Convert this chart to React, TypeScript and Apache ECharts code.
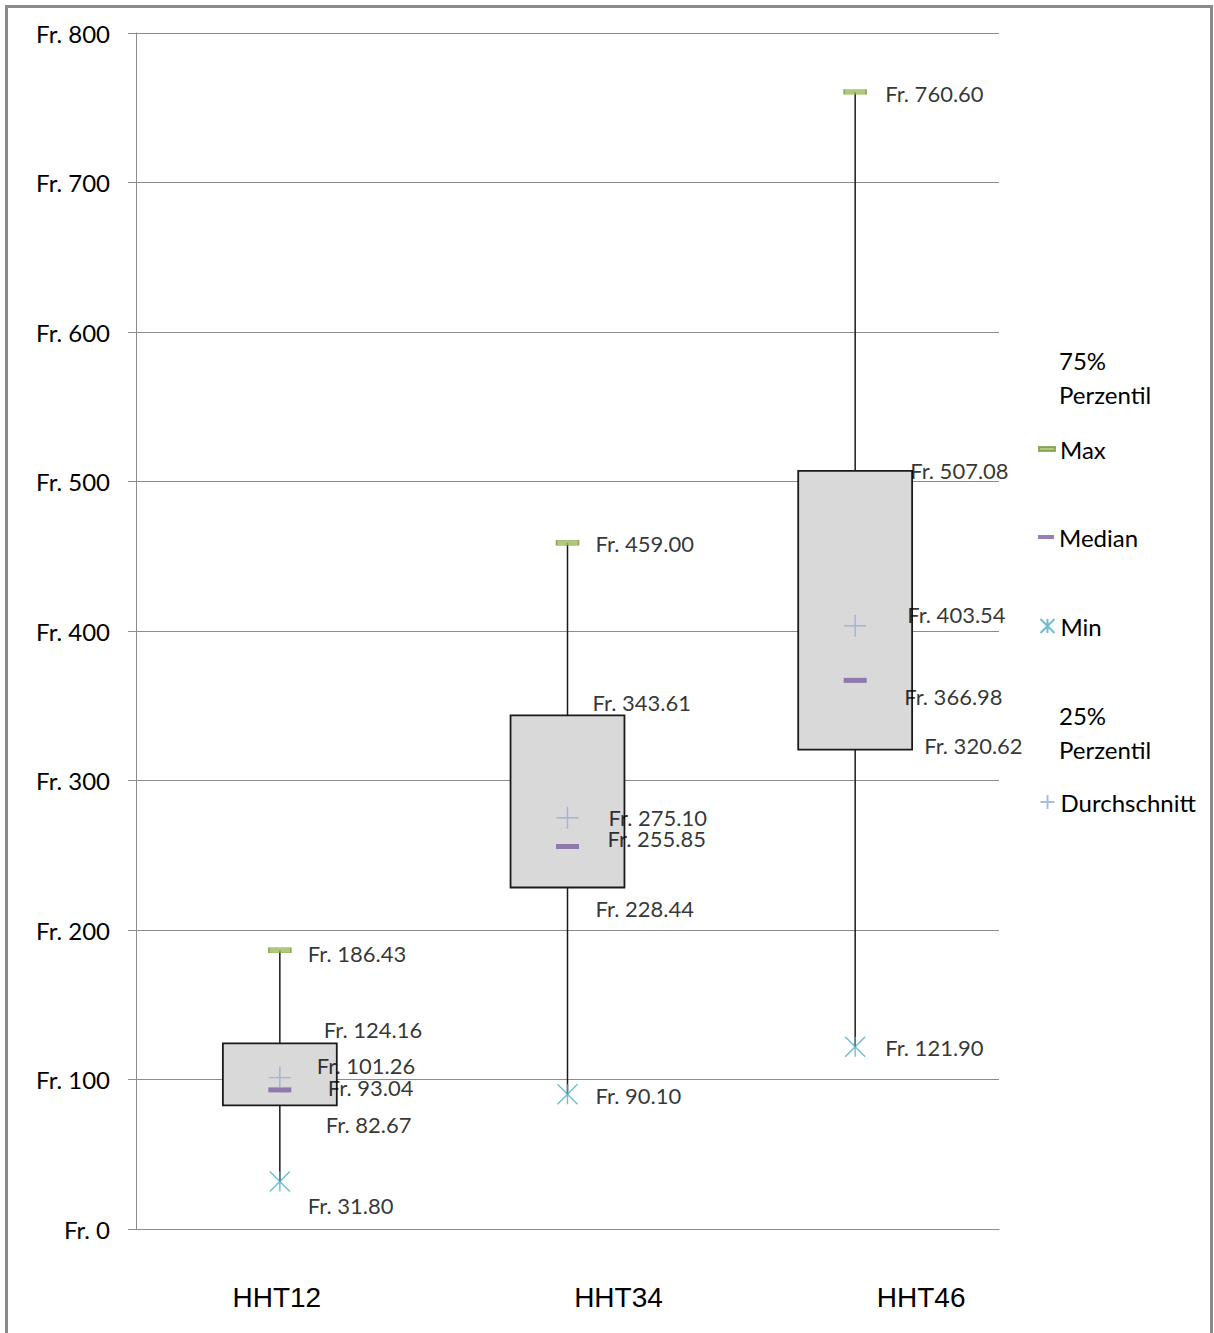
import React, { useEffect, useRef } from "react";
import * as echarts from "echarts";

// Household cost distribution per group (Swiss francs)
const categories = ["HHT12", "HHT34", "HHT46"];
const maxValues = [186.43, 459.0, 760.6];
const q3Values = [124.16, 343.61, 507.08];
const meanValues = [101.26, 275.1, 403.54];
const medianValues = [93.04, 255.85, 366.98];
const q1Values = [82.67, 228.44, 320.62];
const minValues = [31.8, 90.1, 121.9];

// Label placement relative to each point: [dx to text start, dy to text middle]
const maxLabelOffsets = [[28, 3], [28, 1], [30, 2]];
const q3LabelOffsets = [[44, -14], [25, -13], [55, 0]];
const meanLabelOffsets = [[37, -12], [41, 0], [52, -11]];
const medianLabelOffsets = [[48, -2], [40, -8], [49, 16]];
const q1LabelOffsets = [[46, 19], [28, 21], [69, -4]];
const minLabelOffsets = [[28, 24], [28, 1], [30, 1]];

// Horizontal shift of each category caption (rich-text padding left/right)
const captionPadding = [[0, 6, 0, 0], [0, 0, 0, 102], [0, 0, 0, 132]];

const FONT = "Lato, 'Open Sans', sans-serif";
const GRID_GRAY = "#8c8c8c";

const ASTERISK = "path://M0 0L20 20M20 0L0 20M10 0L10 20";
const PLUS = "path://M0 10L20 10M10 0L10 20";

const fmt = (v: number) => "Fr. " + v.toFixed(2);

function pointSeries(
  name: string,
  values: number[],
  offsets: number[][],
  marker: Record<string, unknown>
) {
  return {
    name,
    type: "scatter",
    z: 4,
    silent: true,
    ...marker,
    label: {
      show: true,
      position: "inside",
      align: "left",
      verticalAlign: "middle",
      fontFamily: FONT,
      fontSize: 22,
      color: "#000",
      formatter: (p: any) => fmt(p.value[1]),
    },
    emphasis: { disabled: true },
    data: categories.map((c, i) => ({
      value: [c, values[i]],
      label: { offset: offsets[i] },
    })),
  };
}

function legendAt(name: string, top: number, extra: Record<string, unknown> = {}) {
  return {
    data: [name],
    orient: "vertical",
    left: 1038,
    top,
    padding: 0,
    itemWidth: 16,
    itemHeight: 14,
    selectedMode: false,
    textStyle: { fontFamily: FONT, fontSize: 24, color: "#000", lineHeight: 34 },
    ...extra,
  };
}

// Percentile entries break onto two lines
const wrapName = (n: string) => n.replace(" ", "\n");

export default function App() {
  const ref = useRef<HTMLDivElement>(null);

  useEffect(() => {
    if (!ref.current) return;
    const chart = echarts.init(ref.current, null, { renderer: "svg" });

    const boxData = categories.map((_, i) => [
      i,
      minValues[i],
      q1Values[i],
      q3Values[i],
      maxValues[i],
    ]);

    chart.setOption({
      animation: false,
      backgroundColor: "#fff",
      grid: { left: 136, right: 215, top: 33, bottom: 104 },
      graphic: [
        {
          type: "rect",
          shape: { x: 6.5, y: 6.5, width: 1205, height: 1340 },
          style: { fill: "none", stroke: "#8a8a8a", lineWidth: 3 },
          silent: true,
        },
      ],
      legend: [
        legendAt("75% Perzentil", 343, { itemStyle: { opacity: 0 }, formatter: wrapName }),
        legendAt("Max", 432, { itemHeight: 4 }),
        legendAt("Median", 520, { itemHeight: 4 }),
        legendAt("Min", 609),
        legendAt("25% Perzentil", 698, { itemStyle: { opacity: 0 }, formatter: wrapName }),
        legendAt("Durchschnitt", 785),
      ],
      xAxis: {
        type: "category",
        data: categories,
        boundaryGap: true,
        axisLine: { show: true, lineStyle: { color: GRID_GRAY, width: 1 } },
        axisTick: { show: false },
        splitLine: { show: false },
        axisLabel: {
          margin: 54,
          formatter: (v: string, idx: number) => `{c${idx}|${v}}`,
          rich: {
            c0: { fontFamily: "'Liberation Sans', Arial, sans-serif", fontSize: 28, color: "#000", padding: captionPadding[0] },
            c1: { fontFamily: "'Liberation Sans', Arial, sans-serif", fontSize: 28, color: "#000", padding: captionPadding[1] },
            c2: { fontFamily: "'Liberation Sans', Arial, sans-serif", fontSize: 28, color: "#000", padding: captionPadding[2] },
          },
        },
      },
      yAxis: {
        type: "value",
        min: 0,
        max: 800,
        interval: 100,
        axisLine: { show: true, lineStyle: { color: GRID_GRAY, width: 1 } },
        axisTick: { show: true, length: 8, lineStyle: { color: GRID_GRAY } },
        splitLine: { show: true, lineStyle: { color: GRID_GRAY, width: 1 } },
        axisLabel: {
          margin: 26,
          fontFamily: FONT,
          fontSize: 24,
          color: "#000",
          formatter: (v: number) => "Fr. " + v,
        },
      },
      series: [
        {
          type: "custom",
          name: "box",
          z: 2,
          silent: true,
          encode: { x: 0, y: [1, 2, 3, 4] },
          data: boxData,
          renderItem: (params: any, api: any) => {
            const idx = api.value(0);
            const pMin = api.coord([idx, api.value(1)]);
            const pQ1 = api.coord([idx, api.value(2)]);
            const pQ3 = api.coord([idx, api.value(3)]);
            const pMax = api.coord([idx, api.value(4)]);
            const bw = api.size([1, 0])[0] * 0.396;
            return {
              type: "group",
              children: [
                {
                  type: "line",
                  shape: { x1: pMin[0], y1: pMin[1], x2: pMax[0], y2: pMax[1] },
                  style: { stroke: "#1a1a1a", lineWidth: 1.5 },
                },
                {
                  type: "rect",
                  shape: {
                    x: pQ3[0] - bw / 2,
                    y: pQ3[1],
                    width: bw,
                    height: pQ1[1] - pQ3[1],
                  },
                  style: { fill: "#d9d9d9", stroke: "#1a1a1a", lineWidth: 1.8 },
                },
              ],
            };
          },
        },
        pointSeries("75% Perzentil", q3Values, q3LabelOffsets, {
          symbol: "rect",
          symbolSize: 1,
          itemStyle: { color: "transparent" },
        }),
        pointSeries("Max", maxValues, maxLabelOffsets, {
          symbol: "rect",
          symbolSize: [22, 5],
          itemStyle: { color: "#9bbb59", borderColor: "#7d9a45", borderWidth: 0.8 },
        }),
        pointSeries("Median", medianValues, medianLabelOffsets, {
          symbol: "rect",
          symbolSize: [23, 5],
          itemStyle: { color: "#7a5fa0" },
        }),
        pointSeries("Min", minValues, minLabelOffsets, {
          symbol: ASTERISK,
          symbolSize: 20,
          itemStyle: { color: "none", borderColor: "#4bacc6", borderWidth: 1.4 },
        }),
        pointSeries("25% Perzentil", q1Values, q1LabelOffsets, {
          symbol: "rect",
          symbolSize: 1,
          itemStyle: { color: "transparent" },
        }),
        pointSeries("Durchschnitt", meanValues, meanLabelOffsets, {
          symbol: PLUS,
          symbolSize: 22,
          itemStyle: { color: "none", borderColor: "#8eaadb", borderWidth: 1.4 },
        }),
      ],
    });

    return () => chart.dispose();
  }, []);

  return (
    <div
      ref={ref}
      style={{ position: "fixed", left: 0, top: 0, width: 1214, height: 1333 }}
    />
  );
}
